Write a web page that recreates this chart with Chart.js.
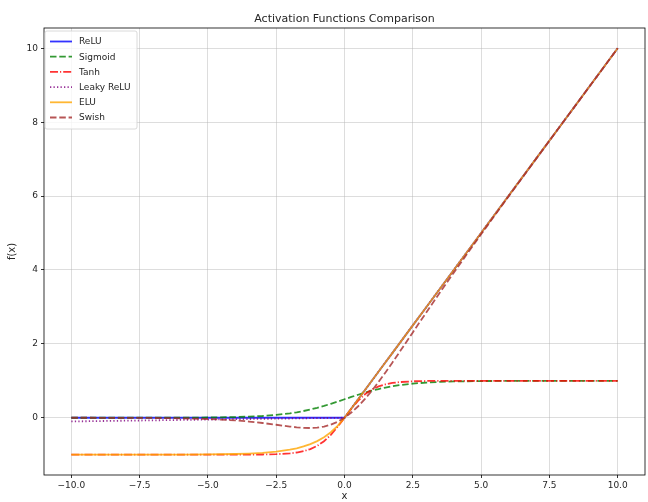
<!DOCTYPE html>
<html lang="en">
<head>
    <meta charset="UTF-8">
    <title>Activation Functions Comparison</title>
    <script src="https://cdn.jsdelivr.net/npm/chart.js"></script>
    <style>
        html, body { margin: 0; padding: 0; background: #fff; }
        #wrap { width: 648px; height: 502px; position: relative; }
    </style>
</head>
<body>
    <div id="wrap"><canvas id="chart" width="648" height="502"></canvas></div>
<script>
    // sample points
    const xs = [-10,-9,-8,-7,-6,-5,-4,-3.5,-3,-2.5,-2,-1.75,-1.5,-1.25,-1,-0.75,-0.5,-0.25,0,0.25,0.5,0.75,1,1.25,1.5,1.75,2,2.5,3,3.5,4,5,6,7,8,9,10];

    const relu = [0,0,0,0,0,0,0,0,0,0,0,0,0,0,0,0,0,0,0,0.25,0.5,0.75,1,1.25,1.5,1.75,2,2.5,3,3.5,4,5,6,7,8,9,10];
    const sigmoid = [0.00005,0.00012,0.00034,0.00091,0.00247,0.00669,0.018,0.0293,0.0474,0.0759,0.1192,0.148,0.1824,0.2227,0.2689,0.3208,0.3775,0.4378,0.5,0.5622,0.6225,0.6792,0.7311,0.7773,0.8176,0.852,0.8808,0.9241,0.9526,0.9707,0.982,0.9933,0.9975,0.9991,0.9997,0.9999,1.0];
    const tanh = [-1,-1,-1,-1,-1,-0.9999,-0.9993,-0.9982,-0.9951,-0.9866,-0.964,-0.9414,-0.9051,-0.8483,-0.7616,-0.6351,-0.4621,-0.2449,0,0.2449,0.4621,0.6351,0.7616,0.8483,0.9051,0.9414,0.964,0.9866,0.9951,0.9982,0.9993,0.9999,1,1,1,1,1];
    const leaky = [-0.1,-0.09,-0.08,-0.07,-0.06,-0.05,-0.04,-0.035,-0.03,-0.025,-0.02,-0.0175,-0.015,-0.0125,-0.01,-0.0075,-0.005,-0.0025,0,0.25,0.5,0.75,1,1.25,1.5,1.75,2,2.5,3,3.5,4,5,6,7,8,9,10];
    const elu = [-0.99995,-0.99988,-0.99966,-0.99909,-0.99752,-0.99326,-0.98168,-0.9698,-0.9502,-0.9179,-0.8647,-0.8262,-0.7769,-0.7135,-0.6321,-0.5276,-0.3935,-0.2212,0,0.25,0.5,0.75,1,1.25,1.5,1.75,2,2.5,3,3.5,4,5,6,7,8,9,10];
    const swish = [-0.00045,-0.0011,-0.0027,-0.0064,-0.0148,-0.0335,-0.0719,-0.1025,-0.1423,-0.1896,-0.2384,-0.259,-0.2736,-0.2784,-0.2689,-0.2406,-0.1888,-0.1094,0,0.1406,0.3112,0.5094,0.7311,0.9716,1.2264,1.491,1.7616,2.3103,2.8577,3.3974,3.928,4.9665,5.9852,6.9936,7.9973,8.9989,9.9995];

    const xTicks = [-10,-7.5,-5,-2.5,0,2.5,5,7.5,10];
    const yTicks = [0,2,4,6,8,10];

    const names = ['ReLU','Sigmoid','Tanh','Leaky ReLU','ELU','Swish'];
    const series = [relu, sigmoid, tanh, leaky, elu, swish];
    const colors = ['rgba(0,0,255,0.8)','rgba(0,128,0,0.8)','rgba(255,0,0,0.8)','rgba(128,0,128,0.8)','rgba(255,165,0,0.8)','rgba(165,42,42,0.8)'];
    const dashes = [[], [6.5,2.8], [8,2,1.2,2], [1.3,2.2], [], [6.5,2.8]];
    const lw = 1.8;

    let datasets = series.map((s, i) => ({
        label: names[i],
        data: xs.map((x, j) => ({x: x, y: s[j]})),
        borderColor: colors[i],
        borderWidth: lw,
        borderDash: dashes[i],
        pointRadius: 0,
        tension: 0,
        fill: false,
        order: series.length - i
    }));

    const font = 'DejaVu Sans';
    const txt = '#262626';

    // frame, title and legend box, matplotlib style
    const extras = {
        id: 'extras',
        afterDatasetsDraw(chart) {
            const ctx = chart.ctx;
            const a = chart.chartArea;
            ctx.save();
            ctx.strokeStyle = '#000';
            ctx.lineWidth = 0.8;
            ctx.strokeRect(a.left, a.top, a.right - a.left, a.bottom - a.top);

            ctx.fillStyle = txt;
            ctx.font = `11px "${font}"`;
            ctx.textAlign = 'center';
            ctx.textBaseline = 'alphabetic';
            ctx.fillText('Activation Functions Comparison', (a.left + a.right) / 2, 22);

            // legend
            let lx = 45, ly = 31, lwid = 92, lh = 98;
            ctx.fillStyle = 'rgba(255,255,255,0.8)';
            ctx.strokeStyle = '#d0d0d0';
            ctx.lineWidth = 0.8;
            ctx.beginPath();
            ctx.roundRect(lx, ly, lwid, lh, 2);
            ctx.fill();
            ctx.stroke();
            ctx.font = `9px "${font}"`;
            ctx.textAlign = 'left';
            ctx.textBaseline = 'middle';
            for (let i = 0; i < names.length; i++) {
                let yy = 41.5 + i * 15.2;
                ctx.strokeStyle = colors[i];
                ctx.lineWidth = lw;
                ctx.setLineDash(dashes[i]);
                ctx.beginPath();
                ctx.moveTo(50, yy);
                ctx.lineTo(72, yy);
                ctx.stroke();
                ctx.setLineDash([]);
                ctx.fillStyle = txt;
                ctx.fillText(names[i], 79, yy + 0.5);
            }
            ctx.restore();
        }
    };

    const fmtX = v => Number(v).toFixed(1).replace('-', '\u2212');

    new Chart(document.getElementById('chart'), {
        type: 'line',
        data: { datasets: datasets },
        options: {
            responsive: false,
            animation: false,
            events: [],
            layout: { padding: { top: 28, right: 3, left: 0, bottom: 0 } },
            plugins: { legend: { display: false }, tooltip: { enabled: false } },
            scales: {
                x: {
                    type: 'linear',
                    min: -11,
                    max: 11,
                    afterBuildTicks: s => { s.ticks = xTicks.map(v => ({value: v})); },
                    afterFit: s => { s.height = 27; },
                    ticks: {
                        callback: v => fmtX(v),
                        color: txt,
                        font: { family: font, size: 9 },
                        padding: 2,
                        maxRotation: 0,
                        autoSkip: false
                    },
                    grid: { color: 'rgba(176,176,176,0.55)', lineWidth: 0.8, tickLength: 3, tickColor: '#000' },
                    border: { display: false },
                    title: { display: true, text: 'x', color: txt, font: { family: font, size: 10 }, padding: { top: 1, bottom: 0 } }
                },
                y: {
                    type: 'linear',
                    min: -1.55,
                    max: 10.55,
                    afterBuildTicks: s => { s.ticks = yTicks.map(v => ({value: v})); },
                    afterFit: s => { s.width = 44; },
                    ticks: {
                        color: txt,
                        font: { family: font, size: 9 },
                        padding: 3,
                        autoSkip: false
                    },
                    grid: { color: 'rgba(176,176,176,0.55)', lineWidth: 0.8, tickLength: 3, tickColor: '#000' },
                    border: { display: false },
                    title: { display: true, text: 'f(x)', color: txt, font: { family: font, size: 10 }, padding: { top: 6, bottom: 4 } }
                }
            }
        },
        plugins: [extras]
    });
</script>
</body>
</html>
